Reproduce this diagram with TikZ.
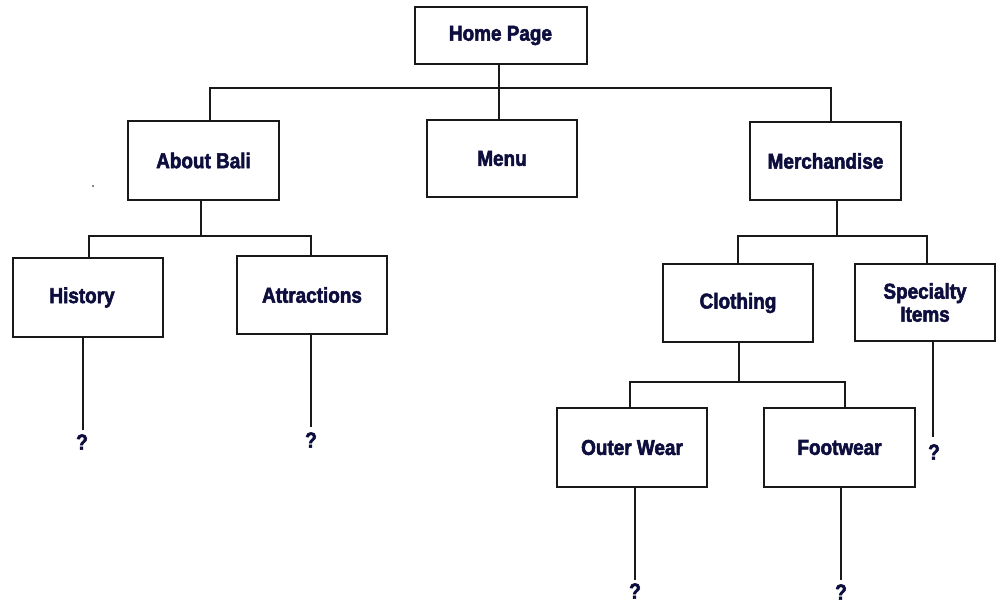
\documentclass[tikz,border=0pt]{standalone}
\usepackage{fontspec}
\setmainfont{Liberation Sans}
\newfontfamily\labelfont{Liberation Sans}[FakeBold=2.5,FakeStretch=0.88]
\definecolor{navy}{RGB}{14,14,62}
\definecolor{edge}{RGB}{25,25,25}
\begin{document}
\begin{tikzpicture}[x=1pt,y=-1pt,
  box/.style={draw=edge,line width=2pt,fill=white,inner sep=0pt,
    text=navy,font=\labelfont\bfseries\fontsize{21.5}{23}\selectfont,align=center},
  link/.style={draw=edge,line width=2pt},
  qmark/.style={text=navy,font=\labelfont\bfseries\fontsize{22}{23}\selectfont,inner sep=0pt}]
\useasboundingbox (0,0) rectangle (997,603);
% boxes
\node[box,minimum width=172pt,minimum height=57pt] (home) at (500.5,35.5) {Home Page};
\node[box,minimum width=151pt,minimum height=79pt] (bali) at (203.5,160.5) {About Bali};
\node[box,minimum width=150pt,minimum height=77pt] (menu) at (502,158.5) {Menu};
\node[box,minimum width=151pt,minimum height=78pt] (merch) at (825.5,161) {Merchandise};
\node[box,minimum width=150pt,minimum height=79pt] (hist) at (88,297.5) {History\kern12pt};
\node[box,minimum width=150pt,minimum height=78pt] (attr) at (312,295) {Attractions};
\node[box,minimum width=150pt,minimum height=78pt] (cloth) at (738,303) {Clothing};
\node[box,minimum width=140pt,minimum height=77pt] (spec) at (925,302.5) {Specialty\\Items};
\node[box,minimum width=150pt,minimum height=79pt] (outer) at (632,447.5) {Outer Wear};
\node[box,minimum width=151pt,minimum height=79pt] (foot) at (839.5,447.5) {Footwear};
% question marks
\node[qmark] (q1) at (82,442) {?};
\node[qmark] (q2) at (311,440) {?};
\node[qmark] (q3) at (934,452) {?};
\node[qmark] (q4) at (635,591) {?};
\node[qmark] (q5) at (841,592) {?};
% junction coordinates
\coordinate (j0) at (499,88);
\coordinate (j1) at (201,236);
\coordinate (j2) at (837,236);
\coordinate (j3) at (739,382);
% connectors
\draw[link] (home.south -| j0) -- (j0);
\draw[link] (menu.north -| j0) -- (j0);
\draw[link] (bali.north -| 210,0) |- (j0) -| (merch.north -| 831,0);
\draw[link] (bali.south -| j1) -- (j1);
\draw[link] (hist.north -| 89,0) |- (j1) -| (attr.north -| 311,0);
\draw[link] (merch.south -| j2) -- (j2);
\draw[link] (cloth.north -| 738,0) |- (j2) -| (spec.north -| 927,0);
\draw[link] (cloth.south -| j3) -- (j3);
\draw[link] (outer.north -| 630,0) |- (j3) -| (foot.north -| 845,0);
\coordinate (e1) at (83,430);
\coordinate (e2) at (311,427);
\coordinate (e3) at (933,437);
\coordinate (e4) at (635,580);
\coordinate (e5) at (841,580);
\draw[link] (hist.south -| e1) -- (e1);
\draw[link] (attr.south -| e2) -- (e2);
\draw[link] (spec.south -| e3) -- (e3);
\draw[link] (outer.south -| e4) -- (e4);
\draw[link] (foot.south -| e5) -- (e5);
% stray dot
\fill[edge!70] (93,186) circle (1.1pt);
\end{tikzpicture}
\end{document}
